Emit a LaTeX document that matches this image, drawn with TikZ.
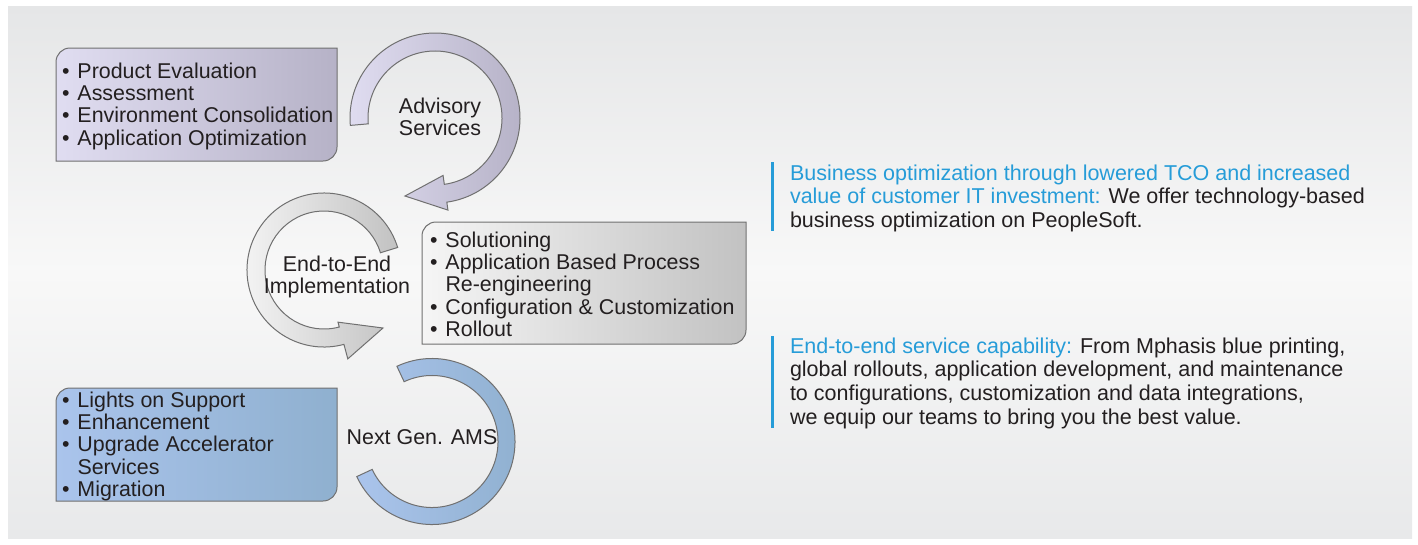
\documentclass[tikz,border=0pt]{standalone}
\usepackage{fontspec}
\setmainfont{Liberation Sans}
\usetikzlibrary{calc}
\definecolor{tblue}{RGB}{38,156,216}
\definecolor{tdark}{RGB}{35,31,32}
\definecolor{edgegray}{RGB}{112,112,112}
\definecolor{bgtop}{RGB}{229,230,231}
\definecolor{bgmid}{RGB}{248,248,248}
\definecolor{bgbot}{RGB}{232,233,234}
\definecolor{lavL}{RGB}{224,221,241}
\definecolor{lavR}{RGB}{182,178,199}
\definecolor{gryL}{RGB}{245,245,245}
\definecolor{gryR}{RGB}{194,194,194}
\definecolor{bluL}{RGB}{170,196,236}
\definecolor{bluR}{RGB}{143,176,207}
\newcommand\bul{\makebox[15.5pt][l]{•}}
\newcommand\ind{\hspace*{15.5pt}}
\begin{document}
\begin{tikzpicture}[x=1pt,y=1pt,
  txt/.style={inner sep=0pt, outer sep=0pt, text=tdark, font=\fontsize{21.4}{22.4}\selectfont, align=left},
  ctxt/.style={txt, align=center},
  rtxt/.style={txt, font=\fontsize{21.5}{23.9}\selectfont},
  outl/.style={draw=edgegray, line width=1pt},
  lavshade/.style={outl, left color=lavL, right color=lavR},
  gryshade/.style={outl, left color=gryL, right color=gryR},
  blushade/.style={outl, left color=bluL, right color=bluR},
  bar/.style={fill=tblue, draw=none}]
\useasboundingbox (0,0) rectangle (1418,-544);
\fill[white] (0,0) rectangle (1418,-544);
\shade[top color=bgtop, bottom color=bgbot, middle color=bgmid] (8,-6) rectangle (1412,-538);

% ---- boxes (top-left and bottom-right corners rounded)
\path[lavshade] (56,-161) -- (56,-62) arc[start angle=180,end angle=90,radius=14] -- (337,-48) -- (337,-147) arc[start angle=0,end angle=-90,radius=14] -- cycle;
\path[gryshade] (422,-344) -- (422,-236) arc[start angle=180,end angle=90,radius=14] -- (746,-222) -- (746,-330) arc[start angle=0,end angle=-90,radius=14] -- cycle;
\path[blushade] (56,-501) -- (56,-402) arc[start angle=180,end angle=90,radius=14] -- (337,-388) -- (337,-487) arc[start angle=0,end angle=-90,radius=14] -- cycle;

% ---- circular arrows
\coordinate (ca) at (435,-118);
\coordinate (ce) at (324,-270);
\coordinate (cn) at (432,-441.5);
\coordinate (tipa) at (405,-196);
\coordinate (tipe) at (383,-328);

\path[lavshade] ($(ca)+(-175:85)$) arc[start angle=-175,end angle=-442,radius=85]
  -- ($(ca)+(-442:93)$) -- (tipa) -- ($(ca)+(-442:58)$) -- ($(ca)+(-442:67)$)
  arc[start angle=-442,end angle=-175,radius=67] -- cycle;

\path[gryshade] ($(ce)+(17:77)$) arc[start angle=17,end angle=285,radius=77]
  -- ($(ce)+(285:92)$) -- (tipe) -- ($(ce)+(285:54)$) -- ($(ce)+(285:59)$)
  arc[start angle=285,end angle=17,radius=59] -- cycle;

\path[blushade] ($(cn)+(115:83)$) arc[start angle=115,end angle=-155,radius=83]
  -- ($(cn)+(-155:66)$) arc[start angle=-155,end angle=115,radius=66] -- cycle;

% ---- texts
\node[txt, anchor=north west] (t1) at (62,-62.5)
  {\bul Product Evaluation\\ \bul Assessment\\ \bul Environment Consolidation\\ \bul Application Optimization};
\node[ctxt, anchor=north] (adv) at (440,-97.5) {Advisory\\Services};
\node[ctxt, anchor=north] (e2e) at (337,-255.5) {End-to-End\\Implementation};
\node[txt, anchor=north west] (t2) at (430,-231.5)
  {\bul Solutioning\\ \bul Application Based Process\\ \ind Re-engineering\\ \bul Configuration \& Customization\\ \bul Rollout};
\node[ctxt, anchor=north] (ams) at (422,-429.5) {Next Gen. AMS};
\node[txt, anchor=north west] (t3) at (62,-391.5)
  {\bul Lights on Support\\ \bul Enhancement\\ \bul Upgrade Accelerator\\ \ind Services\\ \bul Migration};

% ---- right column
\fill[bar] (771,-162) rectangle (774,-231);
\node[rtxt, anchor=north west] (r1) at (790,-164.5)
  {\textcolor{tblue}{Business optimization through lowered TCO and increased}\\
   \textcolor{tblue}{value of customer IT investment:} We offer technology-based\\
   business optimization on PeopleSoft.};
\fill[bar] (771,-336) rectangle (774,-428);
\node[rtxt, anchor=north west] (r2) at (790,-337.5)
  {\textcolor{tblue}{End-to-end service capability:} From Mphasis blue printing,\\
   global rollouts, application development, and maintenance\\
   to configurations, customization and data integrations,\\
   we equip our teams to bring you the best value.};
\end{tikzpicture}
\end{document}
